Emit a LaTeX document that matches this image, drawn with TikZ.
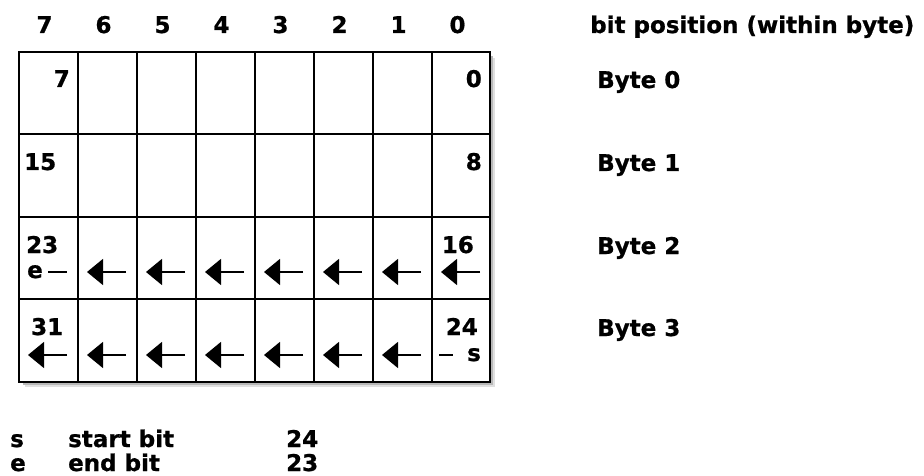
\documentclass[tikz,border=0pt]{standalone}
\usepackage{fontspec}
\setmainfont{DejaVu Sans Bold}[FakeBold=0.8]
\usetikzlibrary{arrows.meta}
\begin{document}
\begin{tikzpicture}[x=1pt,y=-1pt,
  lbl/.style={inner sep=0pt,font=\fontsize{23}{27}\selectfont},
  gridline/.style={line width=1.7pt},
  barrow/.style={line width=1.4pt,-{Triangle[length=16pt,width=26pt]}},
  dashmark/.style={line width=1.4pt}]
\useasboundingbox[fill=white] (0,0) rectangle (924,476);
% shadow
\fill[black!12] (25,58) rectangle (495,387);
\fill[black!28] (23,56) rectangle (493,385);
\fill[white] (19,52) rectangle (490,382);
% grid
\draw[gridline] (19,52) rectangle (490,382);
\foreach \x in {78,137,196,255,314,373,432} \draw[gridline] (\x,52) -- (\x,382);
\foreach \y in {134,217,299} \draw[gridline] (19,\y) -- (490,\y);
% header bit positions
\foreach \b [count=\k from 0] in {7,6,5,4,3,2,1,0}
  \node[lbl,anchor=base] (h\b) at ({44.5+59*\k},33) {\b};
\node[lbl,anchor=base west] (bitpos) at (590,33) {bit position (within byte)};
% byte labels
\node[lbl,anchor=base west] (by0) at (597,88) {Byte 0};
\node[lbl,anchor=base west] (by1) at (597,171) {Byte 1};
\node[lbl,anchor=base west] (by2) at (597,254) {Byte 2};
\node[lbl,anchor=base west] (by3) at (597,336) {Byte 3};
% cell numbers
\node[lbl,anchor=base east] (n7) at (70,87) {7};
\node[lbl,anchor=base east] (n0) at (482,87) {0};
\node[lbl,anchor=base west] (n15) at (24,170) {15};
\node[lbl,anchor=base east] (n8) at (482,170) {8};
\node[lbl,anchor=base west] (n23) at (26,253) {23};
\node[lbl,anchor=base east] (n16) at (474,253) {16};
\node[lbl,anchor=base west] (n31) at (31,335) {31};
\node[lbl,anchor=base east] (n24) at (478,335) {24};
% e and s marks
\node[lbl,anchor=base west] (emark) at (27,278) {e};
\coordinate (ed1) at (48,272);
\coordinate (ed2) at (67,272);
\draw[dashmark] (ed1) -- (ed2);
\node[lbl,anchor=base west] (smark) at (467,361) {s};
\coordinate (sd1) at (439,355);
\coordinate (sd2) at (453,355);
\draw[dashmark] (sd1) -- (sd2);
% arrows
\foreach \x in {78,137,196,255,314,373,432} {
  \coordinate (a2s\x) at ({\x+48},272);
  \coordinate (a2e\x) at ({\x+9},272);
  \draw[barrow] (a2s\x) -- (a2e\x);
}
\foreach \x in {19,78,137,196,255,314,373} {
  \coordinate (a3s\x) at ({\x+48},355);
  \coordinate (a3e\x) at ({\x+9},355);
  \draw[barrow] (a3s\x) -- (a3e\x);
}
% legend
\node[lbl,anchor=base west] (ls) at (10,447) {s};
\node[lbl,anchor=base west] (lstart) at (68,447) {start bit};
\node[lbl,anchor=base west] (l24) at (286,447) {24};
\node[lbl,anchor=base west] (le) at (10,471) {e};
\node[lbl,anchor=base west] (lend) at (68,471) {end bit};
\node[lbl,anchor=base west] (l23) at (286,471) {23};
\end{tikzpicture}
\end{document}
